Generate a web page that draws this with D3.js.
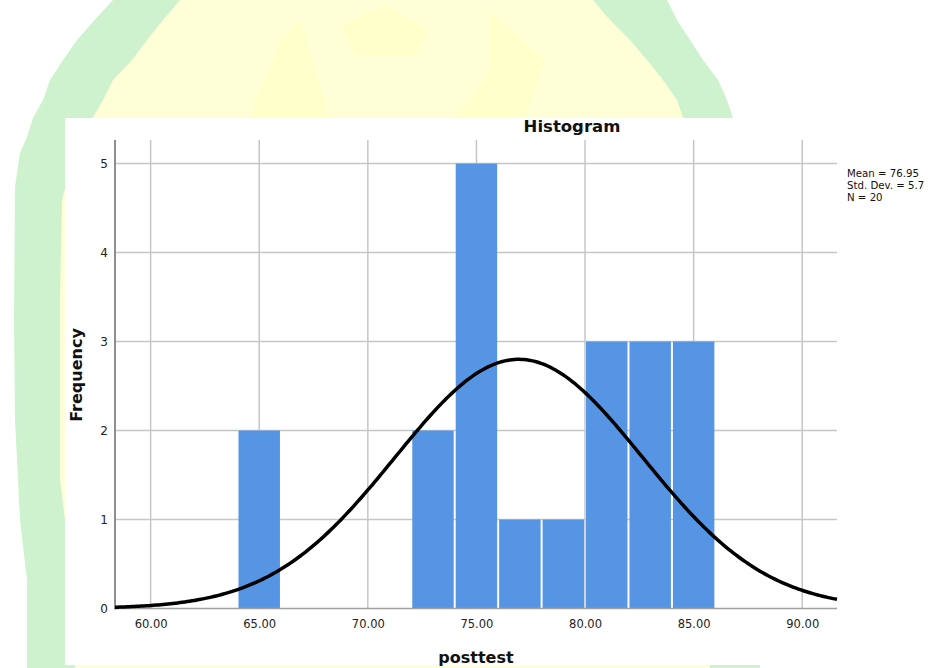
<!DOCTYPE html>
<html>
<head>
<meta charset="utf-8">
<script src="https://cdn.jsdelivr.net/npm/d3@7"></script>
<style>
  html, body { margin: 0; padding: 0; background: #fff; }
  svg { display: block; }
</style>
</head>
<body>
<svg id="chart" width="940" height="668"></svg>
<script>
// ---- data ----
const binStarts = [64, 72, 74, 76, 78, 80, 82, 84];
const binWidth = 2;
const counts = [2, 2, 5, 1, 1, 3, 3, 3];
const xTicks = [60, 65, 70, 75, 80, 85, 90];
const yTicks = [0, 1, 2, 3, 4, 5];
const stats = { mean: 76.95, sd: 5.7, n: 20 };
const legendLines = ["Mean = 76.95", "Std. Dev. = 5.7", "N = 20"];
const titleText = "Histogram";
const xLabel = "posttest";
const yLabel = "Frequency";

// ---- decorative watermark outline ----
const outerLeft = [[27,668],[27,580],[20,520],[15,420],[14,320],[15,187],[20,153],[27,137],[33,118],[43,100],[50,80],[63,60],[77,40],[100,14],[113,0],[125,-10]];
const outerRight = [[655,-10],[667,0],[677,20],[690,40],[703,60],[718,80],[727,100],[733,118],[750,200],[760,668]];
const innerLeft = [[75,668],[65,520],[60,480],[60,300],[62,200],[75,150],[93,117],[103,100],[113,80],[132,60],[147,40],[163,20],[180,0],[190,-10]];
const innerRight = [[585,-10],[593,0],[610,20],[630,40],[647,60],[663,80],[677,100],[683,117],[700,200],[710,668]];

const svg = d3.select("#chart");
const line = d3.line();
svg.append("rect").attr("width", 940).attr("height", 668).attr("fill", "#ffffff");
svg.append("path").attr("d", line(outerLeft.concat(outerRight)) + "Z").attr("fill", "#cdf2cd");
svg.append("path").attr("d", line(innerLeft.concat(innerRight)) + "Z").attr("fill", "#ffffd7");
// faint logo shapes inside
const faint = "#ffffcb";
svg.append("path").attr("d", line([[250,118],[280,40],[300,20],[330,118]]) + "Z").attr("fill", faint);
svg.append("path").attr("d", line([[340,25],[385,5],[430,30],[415,55],[355,55]]) + "Z").attr("fill", faint);
svg.append("path").attr("d", line([[490,10],[545,60],[525,118],[455,118],[490,70]]) + "Z").attr("fill", faint);

// white chart panel
svg.append("rect").attr("x", 65).attr("y", 118).attr("width", 875).attr("height", 547).attr("fill", "#ffffff");

// ---- scales ----
const x = d3.scaleLinear().domain([58.36, 91.6]).range([115, 837]);
const y = d3.scaleLinear().domain([0, 5]).range([608.5, 163.5]);
const plotTop = 140;

// gridlines
const g = svg.append("g");
g.selectAll("line.vg").data(xTicks).join("line")
  .attr("x1", d => x(d)).attr("x2", d => x(d))
  .attr("y1", plotTop).attr("y2", y(0))
  .attr("stroke", "#c6c6c6").attr("stroke-width", 1.5);
g.selectAll("line.hg").data(yTicks.filter(d => d > 0)).join("line")
  .attr("x1", x.range()[0]).attr("x2", x.range()[1])
  .attr("y1", d => y(d)).attr("y2", d => y(d))
  .attr("stroke", "#c6c6c6").attr("stroke-width", 1.5);

// bars
svg.append("g").selectAll("rect").data(binStarts.map((s, i) => ({ s, c: counts[i] }))).join("rect")
  .attr("x", d => x(d.s) + 1)
  .attr("width", d => x(d.s + binWidth) - x(d.s) - 2)
  .attr("y", d => y(d.c))
  .attr("height", d => y(0) - y(d.c))
  .attr("fill", "#5595e3");

// axis lines
svg.append("line").attr("x1", x.range()[0]).attr("x2", x.range()[0]).attr("y1", plotTop).attr("y2", y(0) + 1)
  .attr("stroke", "#8f8f8f").attr("stroke-width", 2);
svg.append("line").attr("x1", x.range()[0]).attr("x2", x.range()[1]).attr("y1", y(0)).attr("y2", y(0))
  .attr("stroke", "#a0a0a0").attr("stroke-width", 1.5);

// normal curve (from stated mean, sd, n and bin width)
const pdf = v => Math.exp(-0.5 * ((v - stats.mean) / stats.sd) ** 2) / (stats.sd * Math.sqrt(2 * Math.PI));
const xs = d3.range(0, 301).map(i => x.domain()[0] + (x.domain()[1] - x.domain()[0]) * i / 300);
svg.append("path")
  .attr("d", d3.line().x(d => x(d)).y(d => y(stats.n * binWidth * pdf(d)))(xs))
  .attr("fill", "none").attr("stroke", "#000").attr("stroke-width", 3.5);

// axes labels
const xAxis = svg.append("g").attr("transform", `translate(0,${y(0)})`)
  .call(d3.axisBottom(x).tickValues(xTicks).tickFormat(d3.format(".2f")).tickSize(0).tickPadding(11));
xAxis.select(".domain").remove();
xAxis.selectAll("text").attr("font-family", "DejaVu Sans").attr("font-size", 11.5).attr("fill", "#222");

const yAxis = svg.append("g").attr("transform", `translate(${x.range()[0]},0)`)
  .call(d3.axisLeft(y).tickValues(yTicks).tickFormat(d3.format("d")).tickSize(0).tickPadding(7));
yAxis.select(".domain").remove();
yAxis.selectAll("text").attr("font-family", "DejaVu Sans").attr("font-size", 12).attr("fill", "#222");

// title & labels
svg.append("text").attr("x", 572).attr("y", 132).attr("text-anchor", "middle")
  .attr("font-family", "DejaVu Sans").attr("font-weight", "bold").attr("font-size", 16.5).attr("fill", "#111")
  .text(titleText);
svg.append("text").attr("x", 476).attr("y", 663).attr("text-anchor", "middle")
  .attr("font-family", "DejaVu Sans").attr("font-weight", "bold").attr("font-size", 16).attr("fill", "#111")
  .text(xLabel);
svg.append("text").attr("transform", "translate(82,375) rotate(-90)").attr("text-anchor", "middle")
  .attr("font-family", "DejaVu Sans").attr("font-weight", "bold").attr("font-size", 16).attr("fill", "#111")
  .text(yLabel);

// legend
svg.append("g").selectAll("text").data(legendLines).join("text")
  .attr("x", 847).attr("y", (d, i) => 177 + i * 12)
  .attr("font-family", "DejaVu Sans").attr("font-size", 10.2).attr("fill", "#111")
  .text(d => d);
</script>
</body>
</html>
